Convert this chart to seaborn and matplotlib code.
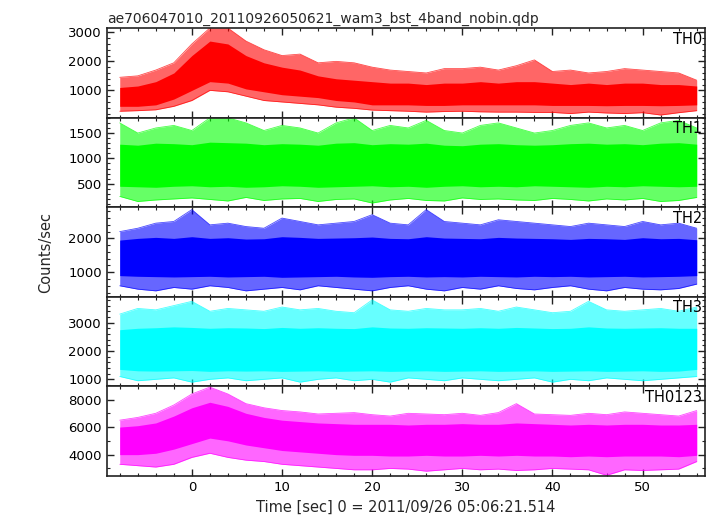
import numpy as np
import pandas as pd
import matplotlib
matplotlib.use("Agg")
import matplotlib.pyplot as plt
from matplotlib.ticker import MultipleLocator
import seaborn as sns

# ---- data (envelopes, 2 s steps) ----
time = [-8, -6, -4, -2, 0, 2, 4, 6, 8, 10, 12, 14, 16, 18, 20, 22, 24, 26, 28, 30,
        32, 34, 36, 38, 40, 42, 44, 46, 48, 50, 52, 54, 56]

th0_outer_hi = [1450, 1500, 1700, 1950, 2600, 3150, 3150, 2700, 2400, 2200, 2250, 1950, 2000, 1950, 1800, 1700, 1650,
                1600, 1750, 1750, 1800, 1700, 1850, 2050, 1650, 1700, 1600, 1650, 1750, 1700, 1650, 1600, 1350]
th0_core_hi = [1100, 1150, 1300, 1600, 2200, 2700, 2600, 2200, 1950, 1800, 1700, 1500, 1400, 1350, 1300, 1250, 1250,
               1200, 1250, 1250, 1300, 1250, 1300, 1300, 1250, 1200, 1250, 1200, 1250, 1250, 1200, 1200, 1150]
th0_core_lo = [450, 450, 500, 700, 1000, 1300, 1250, 1050, 950, 850, 800, 750, 650, 600, 500, 500, 500,
               480, 480, 500, 500, 500, 500, 500, 480, 480, 480, 470, 480, 480, 470, 480, 500]
th0_outer_lo = [280, 300, 330, 450, 650, 1000, 950, 800, 650, 600, 550, 500, 420, 380, 320, 300, 280,
                250, 270, 280, 260, 250, 250, 240, 240, 200, 250, 220, 200, 230, 150, 230, 300]

th1_outer_hi = [1700, 1500, 1600, 1650, 1550, 1800, 1800, 1700, 1550, 1650, 1600, 1500, 1700, 1800, 1550, 1650, 1600,
                1750, 1550, 1500, 1650, 1700, 1600, 1500, 1550, 1650, 1700, 1600, 1650, 1550, 1700, 1750, 1600]
th1_core_hi = [1280, 1260, 1300, 1290, 1270, 1320, 1310, 1300, 1270, 1290, 1280, 1260, 1300, 1310, 1270, 1290, 1280,
               1300, 1260, 1250, 1280, 1290, 1270, 1260, 1270, 1290, 1300, 1280, 1290, 1270, 1300, 1310, 1280]
th1_core_lo = [450, 440, 430, 450, 460, 440, 450, 430, 440, 460, 450, 430, 440, 450, 460, 440, 450,
               430, 450, 460, 440, 450, 440, 460, 450, 440, 430, 450, 440, 460, 450, 440, 450]
th1_outer_lo = [250, 150, 180, 200, 220, 190, 160, 230, 170, 200, 210, 150, 190, 200, 120, 180, 210,
                170, 160, 220, 190, 200, 180, 170, 210, 190, 160, 200, 180, 210, 150, 170, 230]

th2_outer_hi = [2200, 2300, 2450, 2500, 2850, 2400, 2450, 2350, 2300, 2600, 2500, 2400, 2450, 2500, 2700, 2450, 2400,
                2850, 2500, 2450, 2400, 2550, 2500, 2450, 2400, 2350, 2450, 2400, 2350, 2500, 2400, 2450, 2300]
th2_core_hi = [1950, 2000, 2030, 2000, 2050, 2000, 2020, 1980, 1990, 2050, 2030, 2000, 2010, 2020, 2040, 2000, 1990,
               2050, 2010, 2000, 1990, 2030, 2010, 2000, 1990, 1970, 2000, 1990, 1970, 2020, 1990, 2000, 1960]
th2_core_lo = [900, 880, 870, 860, 870, 880, 860, 870, 880, 850, 860, 870, 880, 860, 850, 870, 880,
               860, 870, 860, 880, 870, 860, 880, 870, 880, 860, 870, 880, 860, 870, 880, 900]
th2_outer_lo = [600, 500, 450, 550, 500, 600, 550, 450, 500, 550, 480, 600, 550, 500, 450, 550, 600,
                500, 450, 550, 500, 600, 520, 480, 550, 600, 500, 450, 550, 500, 480, 520, 650]

th3_outer_hi = [3300, 3500, 3450, 3600, 3750, 3400, 3500, 3450, 3400, 3550, 3450, 3500, 3400, 3350, 3800, 3450, 3400,
                3500, 3450, 3450, 3500, 3400, 3550, 3450, 3350, 3400, 3750, 3450, 3400, 3450, 3500, 3400, 3550]
th3_core_hi = [2750, 2800, 2820, 2850, 2830, 2800, 2820, 2810, 2790, 2830, 2800, 2820, 2800, 2790, 2850, 2810, 2800,
               2820, 2810, 2800, 2820, 2800, 2830, 2810, 2790, 2800, 2850, 2810, 2800, 2810, 2820, 2800, 2800]
th3_core_lo = [1350, 1300, 1290, 1300, 1310, 1280, 1300, 1290, 1300, 1280, 1290, 1300, 1280, 1290, 1300, 1280, 1290,
               1300, 1280, 1290, 1300, 1280, 1290, 1300, 1280, 1290, 1300, 1280, 1290, 1300, 1280, 1290, 1350]
th3_outer_lo = [1100, 950, 1000, 1050, 900, 1000, 1050, 950, 1000, 1050, 900, 1000, 1050, 950, 1000, 900, 1050,
                1000, 950, 1050, 1000, 950, 1000, 1050, 900, 1000, 950, 1050, 1000, 950, 1000, 1050, 1100]

th0123_outer_hi = [6500, 6700, 7000, 7600, 8400, 8900, 8400, 7700, 7400, 7200, 7100, 6950, 7000, 7050, 6900, 6800, 7000,
                   6950, 6900, 7000, 6850, 7050, 7700, 6950, 6900, 6850, 7000, 6900, 7100, 7000, 6900, 6800, 7200]
th0123_core_hi = [6000, 6100, 6300, 6800, 7400, 7800, 7500, 7000, 6700, 6500, 6400, 6300, 6250, 6200, 6200, 6200, 6150,
                  6200, 6200, 6250, 6200, 6200, 6300, 6250, 6200, 6150, 6200, 6150, 6200, 6200, 6150, 6150, 6200]
th0123_core_lo = [4000, 4000, 4100, 4400, 4800, 5200, 5000, 4700, 4500, 4300, 4200, 4100, 4000, 3950, 3950, 3900, 3900,
                  3950, 3900, 3900, 3950, 3900, 3950, 3900, 3900, 3850, 3900, 3850, 3900, 3900, 3900, 3850, 3950]
th0123_outer_lo = [3300, 3200, 3100, 3300, 3800, 4100, 3800, 3600, 3500, 3300, 3200, 3100, 3000, 2900, 2900, 3000, 2950,
                   2800, 2900, 3000, 2900, 2950, 2850, 2900, 3000, 2950, 2900, 2500, 2900, 2850, 2900, 2950, 3500]

band_names = ["TH0", "TH1", "TH2", "TH3", "TH0123"]
band_colors = ["#ff0000", "#00ff00", "#0000ff", "#00ffff", "#ff00ff"]
y_limits = [(60, 3150), (37, 1804), (274, 2921), (750, 3910), (2450, 8950)]
y_major = [1000, 500, 1000, 1000, 2000]
y_minor = [200, 100, 200, 200, 1000]

envelopes = [
    (th0_outer_hi, th0_core_hi, th0_core_lo, th0_outer_lo),
    (th1_outer_hi, th1_core_hi, th1_core_lo, th1_outer_lo),
    (th2_outer_hi, th2_core_hi, th2_core_lo, th2_outer_lo),
    (th3_outer_hi, th3_core_hi, th3_core_lo, th3_outer_lo),
    (th0123_outer_hi, th0123_core_hi, th0123_core_lo, th0123_outer_lo),
]

title = "ae706047010_20110926050621_wam3_bst_4band_nobin.qdp"
xlabel = "Time [sec] 0 = 2011/09/26 05:06:21.514"
ylabel = "Counts/sec"

# ---- style ----
sns.set_style("ticks")
plt.rcParams["font.family"] = ["DejaVu Sans"]
plt.rcParams["font.size"] = 9.5

fig, axes = plt.subplots(5, 1, sharex=True, figsize=(7.17, 5.16), dpi=100)
fig.subplots_adjust(left=0.149, right=0.983, top=0.9457, bottom=0.0775, hspace=0)

for i, ax in enumerate(axes):
    ohi, chi, clo, olo = envelopes[i]
    df = pd.DataFrame({"time": time, "ohi": ohi, "chi": chi, "clo": clo, "olo": olo})
    c = band_colors[i]
    ax.fill_between(df["time"], df["olo"], df["ohi"], color=c, alpha=0.6, lw=0)
    ax.fill_between(df["time"], df["clo"], df["chi"], color=c, lw=0)
    sns.lineplot(data=df, x="time", y="ohi", ax=ax, color=c, lw=0.6, alpha=0.7)
    sns.lineplot(data=df, x="time", y="olo", ax=ax, color=c, lw=0.6, alpha=0.7)
    ax.set_ylim(*y_limits[i])
    ax.set_xlim(-9.43, 56.9)
    ax.yaxis.set_major_locator(MultipleLocator(y_major[i]))
    ax.yaxis.set_minor_locator(MultipleLocator(y_minor[i]))
    ax.xaxis.set_major_locator(MultipleLocator(10))
    ax.xaxis.set_minor_locator(MultipleLocator(2))
    ax.tick_params(which="both", direction="in", top=True, right=True, colors="#222222",
                   labelcolor="black", labelsize=9.5)
    ax.tick_params(which="major", length=5, width=1)
    ax.tick_params(which="minor", length=2.5, width=0.8)
    for s in ax.spines.values():
        s.set_linewidth(1.2)
        s.set_color("#222222")
    ax.set_ylabel("")
    ax.set_xlabel("")
    ax.text(0.995, 0.96, band_names[i], transform=ax.transAxes, ha="right", va="top",
            fontsize=10.5, color="black")

axes[0].set_title(title, loc="left", fontsize=10, pad=4)
axes[-1].set_xlabel(xlabel, fontsize=10.5)
fig.text(0.063, 0.51, ylabel, rotation=90, ha="center", va="center", fontsize=10.5)

fig.savefig("out.png", dpi=100)
